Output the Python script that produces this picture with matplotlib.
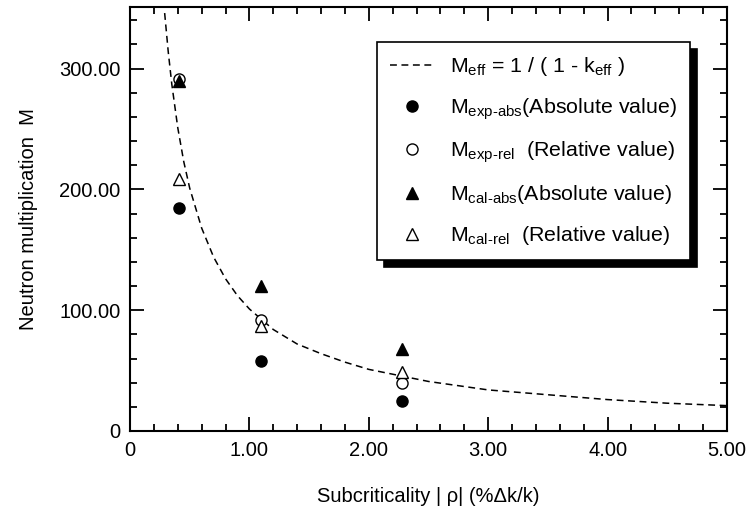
import matplotlib
matplotlib.use("Agg")
from matplotlib import pyplot as plt
from matplotlib.ticker import MultipleLocator, FuncFormatter

plt.rcParams['font.family'] = ['Liberation Sans', 'DejaVu Sans']
plt.rcParams['mathtext.fontset'] = 'custom'
plt.rcParams['mathtext.rm'] = 'Liberation Sans'
plt.rcParams['mathtext.it'] = 'Liberation Sans'
plt.rcParams['mathtext.bf'] = 'Liberation Sans:bold'

# dashed curve M_eff = 1/(1-k_eff)
curve_rho = [0.29, 0.32, 0.35, 0.40, 0.45, 0.50, 0.60, 0.70, 0.80, 0.90, 1.00,
             1.20, 1.40, 1.60, 1.80, 2.00, 2.50, 3.00, 3.50, 4.00, 4.50, 5.00]
curve_m = [346, 314, 287, 251, 223, 201, 168, 144, 126, 112, 101,
           84, 72, 64, 57, 51, 41, 34, 30, 26, 23, 21]

# measured / calculated points
rho = [0.41, 1.10, 2.275]
m_exp_abs = [185, 58, 25]
m_exp_rel = [291, 92, 40]
m_cal_abs = [290, 120, 68]
m_cal_rel = [209, 87, 49]

fig = plt.figure(figsize=(7.49, 5.08), dpi=100)
ax = fig.add_axes([0.1736, 0.1516, 0.797, 0.8346])

ax.plot(curve_rho, curve_m, color='black', lw=1.1, linestyle=(0, (4.5, 3)),
        label=r'M$_{\text{eff}}$ = 1 / ( 1 - k$_{\text{eff}}$ )')
ax.plot(rho, m_exp_abs, 'o', color='black', ms=8, ls='none',
        label=r'M$_{\text{exp-abs}}$(Absolute value)')
ax.plot(rho, m_exp_rel, 'o', mfc='white', mec='black', mew=1, ms=8, ls='none',
        label=r'M$_{\text{exp-rel}}$  (Relative value)')
ax.plot(rho, m_cal_abs, '^', color='black', ms=8, ls='none',
        label=r'M$_{\text{cal-abs}}$(Absolute value)')
ax.plot(rho, m_cal_rel, '^', mfc='white', mec='black', mew=1, ms=8, ls='none',
        label=r'M$_{\text{cal-rel}}$  (Relative value)')

ax.set_xlim(0, 5)
ax.set_ylim(0, 351)

ax.xaxis.set_major_locator(MultipleLocator(1))
ax.xaxis.set_minor_locator(MultipleLocator(0.2))
ax.yaxis.set_major_locator(MultipleLocator(100))
ax.yaxis.set_minor_locator(MultipleLocator(20))
fmt = FuncFormatter(lambda v, p: '0' if v == 0 else '%.2f' % v)
ax.xaxis.set_major_formatter(fmt)
ax.yaxis.set_major_formatter(fmt)

ax.tick_params(which='both', direction='in', top=True, right=True,
               labelsize=14.5, width=1.3)
ax.tick_params(which='major', length=10, pad=7)
ax.tick_params(which='minor', length=5)
for s in ax.spines.values():
    s.set_linewidth(1.5)

ax.set_xlabel('Subcriticality | ρ| (%Δk/k)', fontsize=14.5, labelpad=20)
ax.set_ylabel('Neutron multiplication  M', fontsize=14.5, labelpad=15)

leg = ax.legend(loc='upper left', bbox_to_anchor=(0.4137, 0.9175), fontsize=15.4,
                frameon=True, fancybox=False, edgecolor='black',
                shadow={'color': 'black', 'alpha': 1, 'ox': 5, 'oy': -5},
                labelspacing=0.84, handlelength=2.0, handletextpad=0.8,
                borderpad=0.62, borderaxespad=0)
leg.get_frame().set_linewidth(1.2)

fig.savefig('out.png', dpi=100)
